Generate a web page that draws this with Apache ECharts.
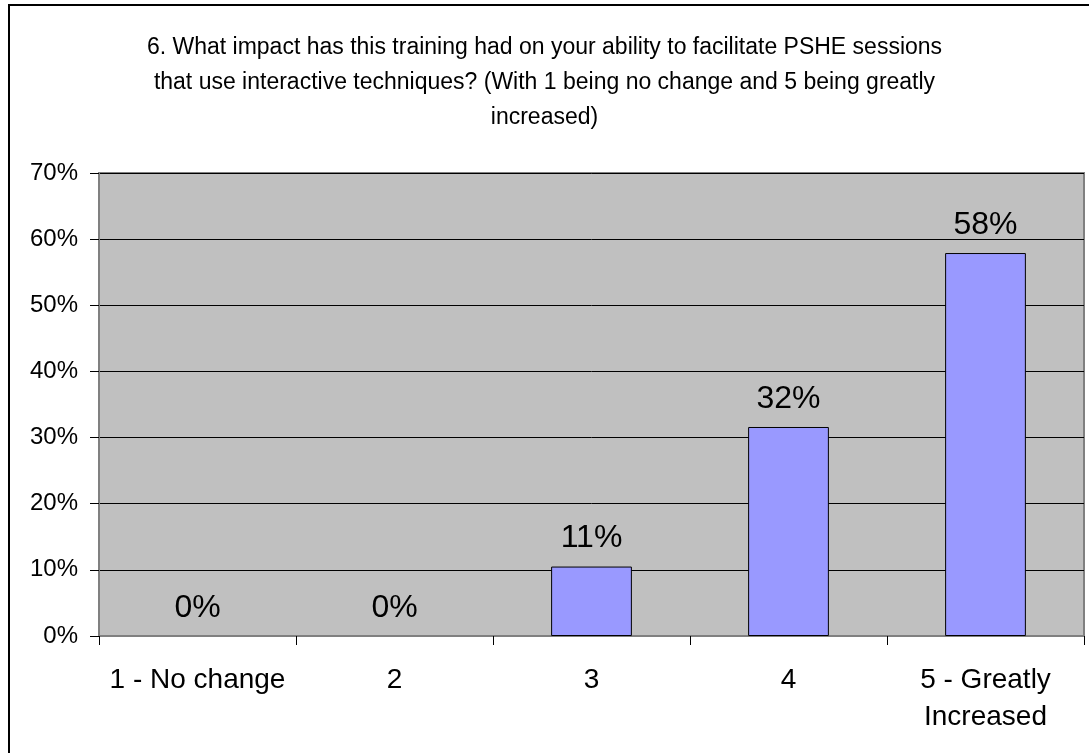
<!DOCTYPE html>
<html>
<head>
<meta charset="utf-8">
<script src="https://cdn.jsdelivr.net/npm/echarts@6/dist/echarts.min.js"></script>
<style>
html,body{margin:0;padding:0;background:#fff;}
#chart{width:1089px;height:753px;}
</style>
</head>
<body>
<div id="chart"></div>
<script>
const titleText = "6. What impact has this training had on your ability to facilitate PSHE sessions\nthat use interactive techniques? (With 1 being no change and 5 being greatly\nincreased)";
const categories = ["1 - No change", "2", "3", "4", "5 - Greatly\nIncreased"];
const values = [0, 0, 10.5, 31.6, 57.9];
const valueLabels = ["0%", "0%", "11%", "32%", "58%"];
const yMin = 0, yMax = 70, yStep = 10;

const FONT = "'Liberation Sans', Arial, sans-serif";
const barData = values.map(v => ({
  value: v,
  itemStyle: v === 0 ? {borderWidth: 0, color: 'rgba(0,0,0,0)'} : {}
}));
const chart = echarts.init(document.getElementById('chart'), null, {renderer: 'canvas'});
chart.setOption({
  animation: false,
  backgroundColor: '#ffffff',
  title: {
    text: titleText,
    left: 'center',
    top: 30,
    padding: 0,
    textStyle: {fontFamily: FONT, fontSize: 23, fontWeight: 'normal', color: '#000', lineHeight: 35}
  },
  graphic: [{
    type: 'rect',
    shape: {x: 9, y: 5, width: 1200, height: 900},
    style: {fill: 'none', stroke: '#000', lineWidth: 2},
    silent: true
  }],
  grid: {
    left: 99, right: 5, top: 173, bottom: 117,
    show: true, backgroundColor: '#C0C0C0', borderColor: '#808080', borderWidth: 2
  },
  xAxis: {
    type: 'category',
    data: categories,
    axisLine: {show: true, lineStyle: {color: '#808080', width: 2}},
    axisTick: {show: true, alignWithLabel: false, length: 9, lineStyle: {color: '#000', width: 1}},
    axisLabel: {fontFamily: FONT, fontSize: 28, color: '#000', margin: 26, lineHeight: 37, interval: 0},
    splitLine: {show: false}
  },
  yAxis: {
    type: 'value',
    min: yMin, max: yMax, interval: yStep,
    axisLine: {show: true, lineStyle: {color: '#808080', width: 2}},
    axisTick: {show: true, length: 9, lineStyle: {color: '#000', width: 1}},
    axisLabel: {fontFamily: FONT, fontSize: 24, color: '#000', margin: 21, formatter: '{value}%'},
    splitLine: {show: true, lineStyle: {color: '#000', width: 1}}
  },
  series: [{
    type: 'bar',
    data: barData,
    barWidth: '41%',
    itemStyle: {color: '#9999FF', borderColor: '#000', borderWidth: 1},
    label: {
      show: true, position: 'top', distance: 12,
      fontFamily: FONT, fontSize: 32, color: '#000',
      formatter: p => valueLabels[p.dataIndex]
    }
  }]
});
</script>
</body>
</html>
